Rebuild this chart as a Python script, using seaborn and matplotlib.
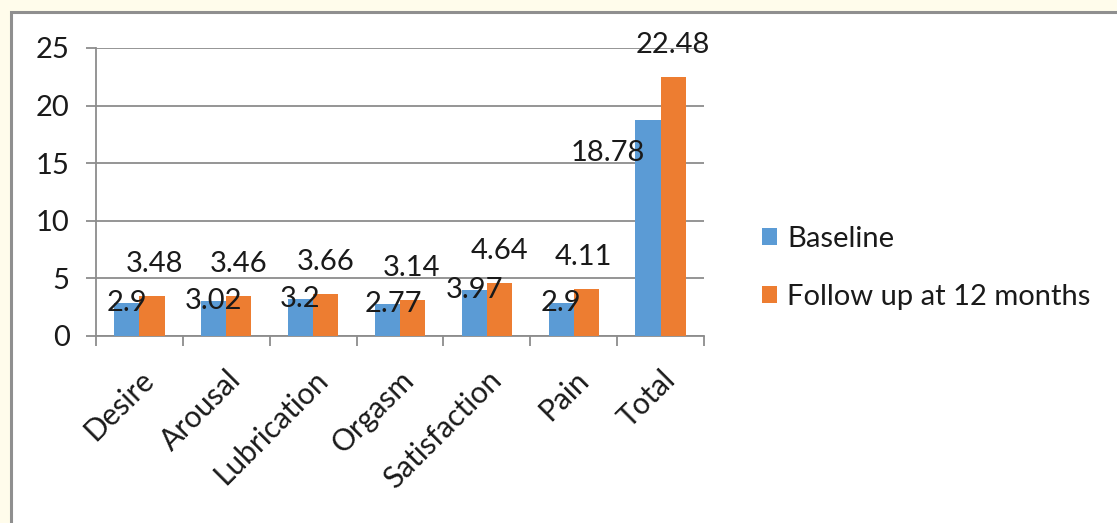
import pandas as pd
import numpy as np
import matplotlib
matplotlib.use('Agg')
import matplotlib.pyplot as plt
import seaborn as sns
from matplotlib.patches import Rectangle

# ========== 数据 ==========
categories = ['Desire', 'Arousal', 'Lubrication', 'Orgasm', 'Satisfaction', 'Pain', 'Total']
baseline = [2.9, 3.02, 3.2, 2.77, 3.97, 2.9, 18.78]
follow_up = [3.48, 3.46, 3.66, 3.14, 4.64, 4.11, 22.48]
series_names = ['Baseline', 'Follow up at 12 months']
y_ticks = [0, 5, 10, 15, 20, 25]

# label offsets in points (dx, dy) relative to the bar top centre
base_offsets = [(0, 0), (0, 0), (0, 0), (4, 0), (0, 0), (0, 0), (-29, -24)]
follow_offsets = [(2, 23), (0, 23), (0, 23), (-1, 23), (0, 23), (-2, 23), (0, 23)]

colors = ['#5B9BD5', '#ED7D31']
grid_color = '#8C8C8C'

df = pd.DataFrame({
    'cat': categories * 2,
    'value': baseline + follow_up,
    'series': [series_names[0]] * len(categories) + [series_names[1]] * len(categories),
})

sns.set_style('white')
plt.rcParams['font.family'] = ['Lato', 'DejaVu Sans']
plt.rcParams['font.size'] = 21

fig = plt.figure(figsize=(11.17, 5.23), dpi=100)
fig.patch.set_facecolor('#FFFCEB')
# 白色图表区域 + 灰色边框
frame = Rectangle((11 / 1117, -0.1), 1.2, 1 - 12 / 523 + 0.1,
                  transform=fig.transFigure, facecolor='white',
                  edgecolor='#8F8F8F', linewidth=2.2, zorder=-10)
fig.add_artist(frame)

ax = fig.add_axes([96 / 1117, 1 - 336 / 523, (704 - 96) / 1117, (336 - 48) / 523])
ax.set_facecolor('none')
sns.barplot(data=df, x='cat', y='value', hue='series', palette=colors,
            width=0.58, gap=0, saturation=1, linewidth=0, ax=ax, zorder=3, legend=True)

ax.set_ylim(0, 25)
ax.set_xlim(-0.5, len(categories) - 0.5)
ax.set_yticks(y_ticks)
ax.yaxis.grid(True, color=grid_color, linewidth=1.3, zorder=0)
ax.set_axisbelow(True)
ax.set_xlabel('')
ax.set_ylabel('')

for s in ['top', 'right']:
    ax.spines[s].set_visible(False)
for s in ['left', 'bottom']:
    ax.spines[s].set_color(grid_color)
    ax.spines[s].set_linewidth(1.3)

ax.tick_params(axis='y', length=7, width=1.3, color=grid_color, pad=12,
               labelsize=21, labelcolor='#1a1a1a', direction='out', left=True)
ax.set_xticks(range(len(categories)))
ax.set_xticklabels(categories, rotation=45, ha='right', rotation_mode='anchor',
                   fontsize=21.5, color='#1a1a1a')
ax.tick_params(axis='x', which='major', length=0, pad=21)
ax.set_xticks(np.arange(-0.5, len(categories), 1), minor=True)
ax.tick_params(axis='x', which='minor', length=7, width=1.3, color=grid_color,
               direction='out', bottom=True)

# 数据标签
containers = ax.containers
for cont, vals, offs in [(containers[0], baseline, base_offsets),
                         (containers[1], follow_up, follow_offsets)]:
    for rect, v, (dx, dy) in zip(cont.patches, vals, offs):
        ax.annotate(f'{v:g}', (rect.get_x() + rect.get_width() / 2, rect.get_height()),
                    xytext=(dx, dy), textcoords='offset points',
                    ha='center', va='center', fontsize=21, color='#1a1a1a', zorder=5)

leg = ax.legend(loc='center left', bbox_to_anchor=(0.6695, 0.488),
                bbox_transform=fig.transFigure, frameon=False, fontsize=21,
                handlelength=0.5, handleheight=0.5, handletextpad=0.35,
                labelspacing=1.1, borderpad=0)
for t in leg.get_texts():
    t.set_color('#1a1a1a')

plt.savefig('out.png', dpi=100, facecolor=fig.get_facecolor())
